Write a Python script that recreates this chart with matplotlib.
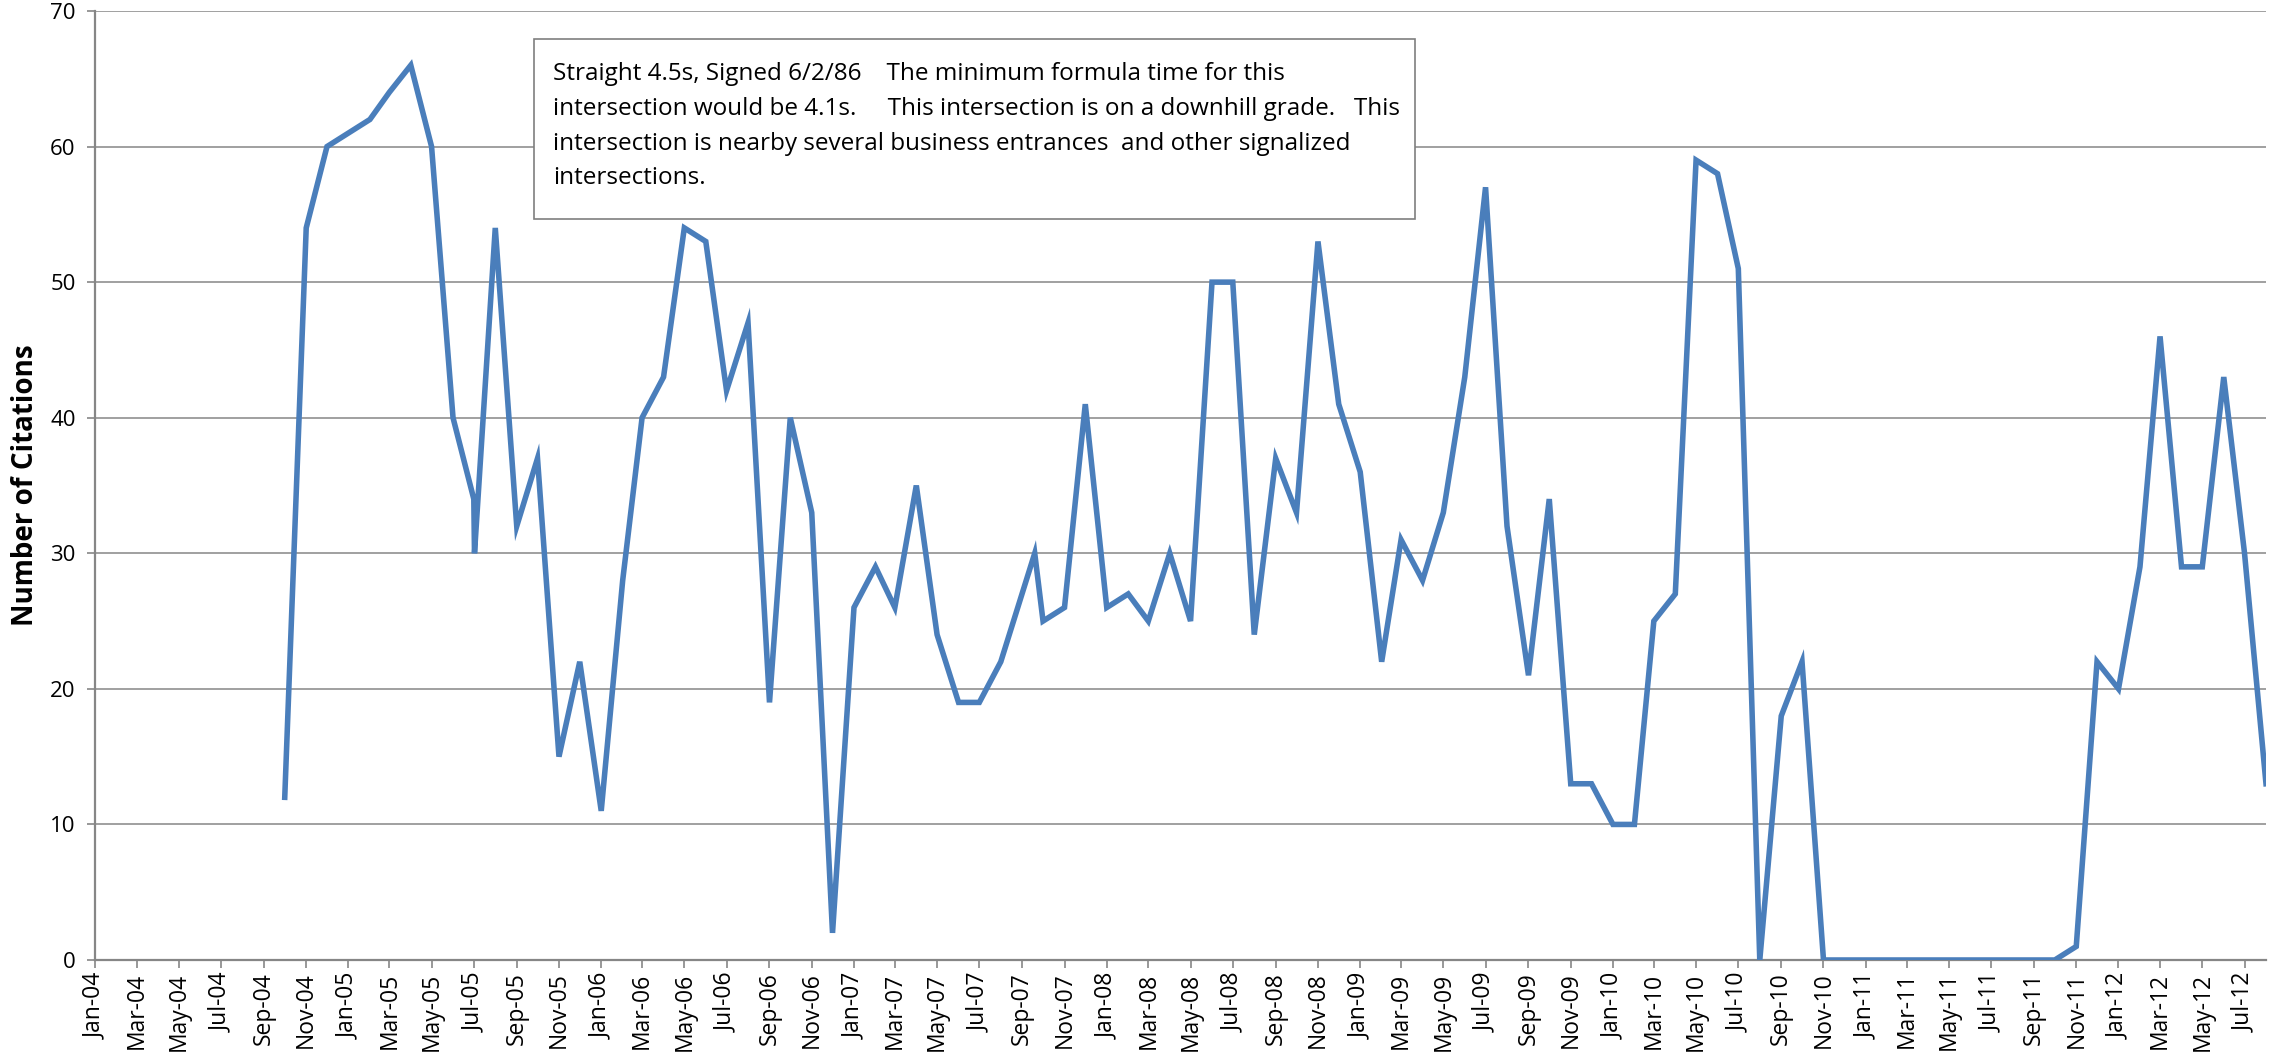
import matplotlib
matplotlib.use("Agg")
import matplotlib.pyplot as plt
import matplotlib.dates as mdates
import matplotlib.patches as mpatches
import pandas as pd

# monthly citation counts (Jul-05 has two entries, one Sep-07 entry mid-month)
dates = [
    "2004-10-01", "2004-11-01", "2004-12-01",
    "2005-01-01", "2005-02-01", "2005-03-01", "2005-04-01", "2005-05-01", "2005-06-01",
    "2005-07-01", "2005-07-02", "2005-08-01", "2005-09-01", "2005-10-01", "2005-11-01", "2005-12-01",
    "2006-01-01", "2006-02-01", "2006-03-01", "2006-04-01", "2006-05-01", "2006-06-01",
    "2006-07-01", "2006-08-01", "2006-09-01", "2006-10-01", "2006-11-01", "2006-12-01",
    "2007-01-01", "2007-02-01", "2007-03-01", "2007-04-01", "2007-05-01", "2007-06-01",
    "2007-07-01", "2007-08-01", "2007-09-19", "2007-10-01", "2007-11-01", "2007-12-01",
    "2008-01-01", "2008-02-01", "2008-03-01", "2008-04-01", "2008-05-01", "2008-06-01",
    "2008-07-01", "2008-08-01", "2008-09-01", "2008-10-01", "2008-11-01", "2008-12-01",
    "2009-01-01", "2009-02-01", "2009-03-01", "2009-04-01", "2009-05-01", "2009-06-01",
    "2009-07-01", "2009-08-01", "2009-09-01", "2009-10-01", "2009-11-01", "2009-12-01",
    "2010-01-01", "2010-02-01", "2010-03-01", "2010-04-01", "2010-05-01", "2010-06-01",
    "2010-07-01", "2010-08-01", "2010-09-01", "2010-10-01", "2010-11-01", "2010-12-01",
    "2011-01-01", "2011-02-01", "2011-03-01", "2011-04-01", "2011-05-01", "2011-06-01",
    "2011-07-01", "2011-08-01", "2011-09-01", "2011-10-01", "2011-11-01", "2011-12-01",
    "2012-01-01", "2012-02-01", "2012-03-01", "2012-04-01", "2012-05-01", "2012-06-01",
    "2012-07-01", "2012-08-01",
]
citations = [
    12, 54, 60,
    61, 62, 64, 66, 60, 40,
    34, 30, 54, 32, 37, 15, 22,
    11, 28, 40, 43, 54, 53,
    42, 47, 19, 40, 33, 2,
    26, 29, 26, 35, 24, 19,
    19, 22, 30, 25, 26, 41,
    26, 27, 25, 30, 25, 50,
    50, 24, 37, 33, 53, 41,
    36, 22, 31, 28, 33, 43,
    57, 32, 21, 34, 13, 13,
    10, 10, 25, 27, 59, 58,
    51, 0, 18, 22, 0, 0,
    0, 0, 0, 0, 0, 0,
    0, 0, 0, 0, 1, 22,
    20, 29, 46, 29, 29, 43,
    30, 13,
]
x_start, x_end = "2004-01-01", "2012-08-01"
y_ticks = [0, 10, 20, 30, 40, 50, 60, 70]

note = ("Straight 4.5s, Signed 6/2/86    The minimum formula time for this\n"
        "intersection would be 4.1s.     This intersection is on a downhill grade.   This\n"
        "intersection is nearby several business entrances  and other signalized\n"
        "intersections.")

FONT = ["Open Sans", "DejaVu Sans"]
GRID = "#868686"
LINE = "#4a7ebb"

W, H = 2271, 1057
fig = plt.figure(figsize=(W / 100, H / 100), dpi=100)
ax = fig.add_axes([95 / W, 1 - 960 / H, (2266 - 95) / W, (960 - 11) / H])

x = pd.to_datetime(dates)
ax.plot(x, citations, color=LINE, lw=4.0, solid_joinstyle="miter", zorder=3)

ax.set_xlim(pd.Timestamp(x_start), pd.Timestamp(x_end))
ax.set_ylim(y_ticks[0], y_ticks[-1])
ax.set_yticks(y_ticks)
ax.xaxis.set_major_locator(mdates.MonthLocator(bymonth=[1, 3, 5, 7, 9, 11]))
ax.xaxis.set_major_formatter(mdates.DateFormatter("%b-%y"))

ax.grid(axis="y", color=GRID, lw=1.1)
ax.set_axisbelow(True)
for side in ("top", "right"):
    ax.spines[side].set_visible(False)
for side in ("left", "bottom"):
    ax.spines[side].set_color(GRID)
    ax.spines[side].set_linewidth(1.6)

ax.tick_params(axis="x", length=6, width=1.2, color=GRID, pad=3,
               labelsize=16.5, labelrotation=90)
ax.tick_params(axis="y", length=6, width=1.2, color=GRID, pad=8, labelsize=16)
for lab in ax.get_xticklabels() + ax.get_yticklabels():
    lab.set_family(FONT)

ax.set_ylabel("Number of Citations", fontsize=20, fontweight="bold", family=FONT)
ax.yaxis.set_label_coords(-0.0255, 0.5)

# annotation box
box = mpatches.Rectangle((534 / W, 1 - 219 / H), 881 / W, 180 / H,
                         transform=fig.transFigure, facecolor="white",
                         edgecolor="#7f7f7f", lw=1.2, zorder=5)
fig.add_artist(box)
fig.text(553 / W, 1 - 62 / H, note, ha="left", va="top", fontsize=17.5,
         family=FONT, linespacing=1.6, zorder=6)

plt.savefig("out.png", dpi=100, facecolor="white")
plt.close()
